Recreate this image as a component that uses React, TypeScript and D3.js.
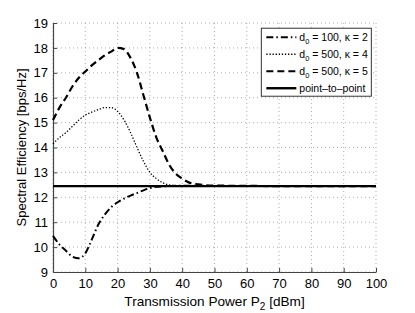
import React, { useEffect, useRef } from 'react';
import * as d3 from 'd3';

// sample points (x = P2 in dBm)
const xA = [0, 2, 4, 6, 8, 10, 12, 14, 16, 18, 20, 22, 24, 26, 28, 30, 32, 34, 36, 38, 40, 42, 45, 50, 60, 70, 80, 90, 100];
const d100k2 = [10.45, 10.1, 9.85, 9.62, 9.55, 9.75, 10.3, 10.9, 11.3, 11.6, 11.8, 11.95, 12.07, 12.17, 12.28, 12.37, 12.42, 12.44, 12.45, 12.46, 12.46, 12.46, 12.46, 12.45, 12.45, 12.45, 12.45, 12.45, 12.45];
const d500k4 = [14.15, 14.4, 14.6, 14.85, 15.1, 15.3, 15.42, 15.52, 15.6, 15.6, 15.45, 15.1, 14.6, 14.0, 13.45, 13.0, 12.75, 12.58, 12.5, 12.47, 12.46, 12.46, 12.45, 12.45, 12.45, 12.45, 12.45, 12.45, 12.45];
const d500k5 = [15.1, 15.6, 16.0, 16.45, 16.8, 17.05, 17.3, 17.5, 17.7, 17.85, 18.0, 17.95, 17.6, 17.0, 16.1, 15.2, 14.4, 13.85, 13.3, 12.95, 12.75, 12.6, 12.52, 12.47, 12.46, 12.45, 12.45, 12.45, 12.45];
const p2p = 12.45;

const xTicks = [0, 10, 20, 30, 40, 50, 60, 70, 80, 90, 100];
const yTicks = [9, 10, 11, 12, 13, 14, 15, 16, 17, 18, 19];

const series = [
  { name: '100', kappa: '2', values: d100k2, dash: '7,3,1.5,3', width: 2 },
  { name: '500', kappa: '4', values: d500k4, dash: '1.3,1.8', width: 1.3 },
  { name: '500', kappa: '5', values: d500k5, dash: '7,4', width: 2.2 },
];

const App = () => {
  const svgRef = useRef<SVGSVGElement>(null);

  useEffect(() => {
    const root = d3.select(svgRef.current);
    root.selectAll('*').remove();

    const margin = { top: 23, right: 39, bottom: 41, left: 53 };
    const W = 415, H = 313;
    const width = W - margin.left - margin.right;
    const height = H - margin.top - margin.bottom;
    const font = 'Liberation Sans, Arial, sans-serif';

    const svg = root.append('g').attr('transform', `translate(${margin.left},${margin.top})`);

    const x = d3.scaleLinear().domain([0, 100]).range([0, width]);
    const y = d3.scaleLinear().domain([9, 19]).range([height, 0]);

    // grid
    svg.append('g').selectAll('line').data(xTicks).enter().append('line')
      .attr('x1', (d) => x(d)).attr('x2', (d) => x(d)).attr('y1', 0).attr('y2', height)
      .attr('stroke', '#999').attr('stroke-width', 0.8).attr('stroke-dasharray', '1,3');
    svg.append('g').selectAll('line').data(yTicks).enter().append('line')
      .attr('y1', (d) => y(d)).attr('y2', (d) => y(d)).attr('x1', 0).attr('x2', width)
      .attr('stroke', '#999').attr('stroke-width', 0.8).attr('stroke-dasharray', '1,3');

    // axes
    const xAxis = svg.append('g').attr('transform', `translate(0,${height})`)
      .call(d3.axisBottom(x).tickValues(xTicks).tickSizeInner(-4).tickSizeOuter(0).tickPadding(7));
    const yAxis = svg.append('g')
      .call(d3.axisLeft(y).tickValues(yTicks).tickSizeInner(-4).tickSizeOuter(0).tickPadding(5));
    [xAxis, yAxis].forEach((a) => {
      a.select('.domain').attr('stroke', '#444').attr('stroke-width', 1.2);
      a.selectAll('.tick line').attr('stroke', '#444');
      a.selectAll('text').attr('font-family', font).attr('font-size', 13).attr('fill', '#000');
    });

    // curves
    const line = d3.line<number>()
      .x((_, i) => x(xA[i]))
      .y((d) => y(d))
      .curve(d3.curveMonotoneX);

    svg.append('line')
      .attr('x1', x(0)).attr('x2', x(100)).attr('y1', y(p2p)).attr('y2', y(p2p))
      .attr('stroke', '#000').attr('stroke-width', 2.4);

    series.forEach((s) => {
      svg.append('path').datum(s.values)
        .attr('d', line)
        .attr('fill', 'none').attr('stroke', '#000')
        .attr('stroke-width', s.width).attr('stroke-dasharray', s.dash);
    });

    // legend
    const lg = svg.append('g').attr('transform', `translate(${x(64.5)},${y(18.79)})`);
    lg.append('rect').attr('width', 110).attr('height', 68)
      .attr('fill', '#fff').attr('stroke', '#333').attr('stroke-width', 1);
    const rows = [...series.map((s) => ({ ...s, solid: false })), { name: '', kappa: '', values: [], dash: '', width: 2.4, solid: true }];
    rows.forEach((s, i) => {
      const ry = 9 + i * 17;
      lg.append('line').attr('x1', 5).attr('x2', 35).attr('y1', ry).attr('y2', ry)
        .attr('stroke', '#000').attr('stroke-width', s.width)
        .attr('stroke-dasharray', s.dash || null);
      const t = lg.append('text').attr('x', 38).attr('y', ry + 3.8)
        .attr('font-family', font).attr('font-size', 10.5);
      if (s.solid) {
        t.text('point\u2013to\u2013point');
      } else {
        t.append('tspan').text('d');
        t.append('tspan').attr('font-size', 7.5).attr('dy', 3).text('0');
        t.append('tspan').attr('dy', -3).text(` = ${s.name}, \u03ba = ${s.kappa}`);
      }
    });

    // axis labels
    const xl = svg.append('text').attr('x', width / 2).attr('y', height + 34)
      .attr('text-anchor', 'middle').attr('font-family', font).attr('font-size', 13.6);
    xl.append('tspan').text('Transmission Power P');
    xl.append('tspan').attr('font-size', 10).attr('dy', 4).text('2');
    xl.append('tspan').attr('dy', -4).text(' [dBm]');

    svg.append('text').attr('transform', 'rotate(-90)')
      .attr('x', -height / 2).attr('y', -27)
      .attr('text-anchor', 'middle').attr('font-family', font).attr('font-size', 13)
      .text('Spectral Efficiency [bps/Hz]');
  }, []);

  return (
    <svg ref={svgRef} width={415} height={313}
      style={{ position: 'absolute', left: 0, top: 0, background: '#fff' }} />
  );
};

export default App;
